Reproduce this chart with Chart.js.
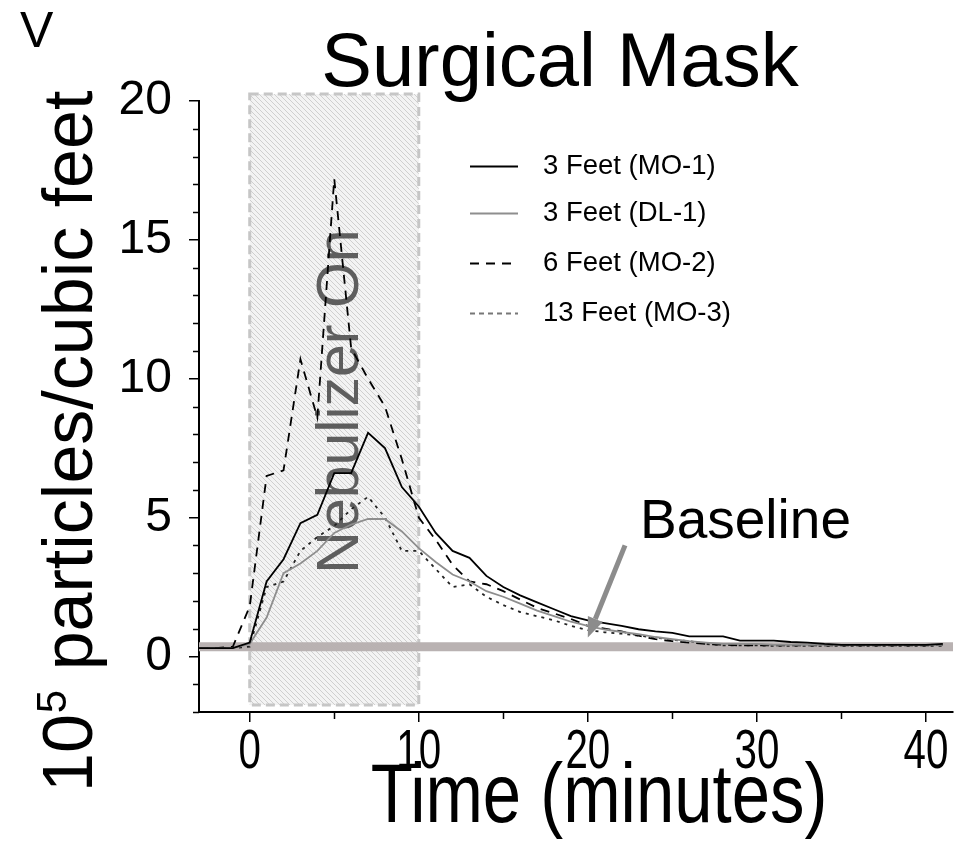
<!DOCTYPE html>
<html>
<head>
<meta charset="utf-8">
<script src="https://cdn.jsdelivr.net/npm/chart.js@4.4.1/dist/chart.umd.min.js"></script>
<style>
  html, body { margin: 0; padding: 0; background: #fff; }
  #wrap { width: 954px; height: 845px; }
</style>
</head>
<body>
<div id="wrap"><canvas id="chart" width="954" height="845"></canvas></div>
<script>
// sampling times, minutes relative to nebulizer start
const minutes = [-3,-2,-1,0,1,2,3,4,5,6,7,8,9,10,11,12,13,14,15,16,17,18,19,20,
  21,22,23,24,25,26,27,28,29,30,31,32,33,34,35,36,37,38,39,40,41];

// 10^5 particles / cubic feet
const mo1 = [0.30,0.30,0.30,0.50, 2.7,3.5,4.8,5.1,6.6,6.6,8.05,7.5,6.1,5.4,
  4.45,3.8,3.55,2.9,2.5,2.2,1.95,1.7,1.45,1.3, 1.2,1.1,0.98,0.9,0.85,0.72,0.72,0.72,0.57,0.57,
  0.57,0.52,0.5,0.45,0.42,0.42,0.42,0.42,0.42,0.42,0.45];
const dl1 = [0.30,0.30,0.30,0.45, 1.4,3.0,3.35,3.8,4.45,4.75,4.95,4.95,4.5,3.9,
  3.4,2.95,2.7,2.35,2.15,1.9,1.65,1.45,1.25,1.1, 0.97,0.88,0.8,0.7,0.62,0.55,0.5,0.45,0.45,0.45,
  0.42,0.42,0.42,0.42,0.42,0.42,0.42,0.42,0.42,0.42,0.42];
const mo2 = [0.30,0.30,0.35,1.8, 6.5,6.7,10.7,8.6,17.2,11.1,10.0,9.0,7.1,5.0,
  4.2,3.3,2.7,2.6,2.35,2.05,1.75,1.55,1.35,1.1, 1.0,0.9,0.75,0.62,0.55,0.5,0.45,0.42,0.4,0.4,
  0.4,0.4,0.4,0.4,0.4,0.4,0.4,0.4,0.4,0.4,0.42];
const mo3 = [0.30,0.30,0.30,0.35, 2.5,2.7,3.8,4.3,4.7,5.3,5.75,5.0,3.8,3.8,
  3.15,2.5,2.6,2.15,1.85,1.6,1.45,1.3,1.1,0.95, 0.87,0.82,0.75,0.68,0.6,0.55,0.45,0.4,0.4,0.4,
  0.38,0.38,0.38,0.38,0.38,0.38,0.38,0.38,0.38,0.38,0.38];

const baselineLevel = 0.35;
const baselineSpan = [-3, 41.6];
const nebulizerOn = [0, 10];

const xTicks = [0, 10, 20, 30, 40];
const xMinor = [5, 15, 25, 35];
const yTicks = [0, 5, 10, 15, 20];
const yMinor = [-2,-1,1,2,3,4,6,7,8,9,11,12,13,14,16,17,18,19];

const SANS = '"Liberation Sans", Arial, sans-serif';

function pts(ys) { return minutes.map((t, i) => ({ x: t, y: ys[i] })); }

// horizontally squeezed text (narrow face look)
function narrowText(ctx, text, x, y, size, sx) {
  ctx.save();
  ctx.translate(x, y);
  ctx.scale(sx, 1);
  ctx.font = size + 'px ' + SANS;
  ctx.textAlign = 'center';
  ctx.textBaseline = 'alphabetic';
  ctx.fillText(text, 0, 0);
  ctx.restore();
}

// diagonal hatch for the nebulizer window
function hatch() {
  const c = document.createElement('canvas');
  c.width = 5; c.height = 5;
  const g = c.getContext('2d');
  g.fillStyle = '#f3f3f3';
  g.fillRect(0, 0, 5, 5);
  g.strokeStyle = '#cfcfcf';
  g.lineWidth = 1;
  g.beginPath();
  g.moveTo(-1, -1); g.lineTo(6, 6);
  g.moveTo(-1, 4); g.lineTo(1, 6);
  g.moveTo(4, -1); g.lineTo(6, 1);
  g.stroke();
  return g.createPattern(c, 'repeat');
}

const decor = {
  id: 'decor',
  beforeDatasetsDraw(chart) {
    const { ctx, scales: { x, y } } = chart;
    const x0 = x.getPixelForValue(nebulizerOn[0]);
    const x1 = x.getPixelForValue(nebulizerOn[1]);
    const y0 = y.getPixelForValue(20.25);
    const y1 = y.getPixelForValue(-1.75);
    ctx.save();
    ctx.fillStyle = hatch();
    ctx.fillRect(x0, y0, x1 - x0, y1 - y0);
    ctx.strokeStyle = '#c6c6c6';
    ctx.lineWidth = 3;
    ctx.setLineDash([9, 5]);
    ctx.strokeRect(x0, y0, x1 - x0, y1 - y0);
    ctx.setLineDash([]);

    ctx.translate(358, (y0 + y1) / 2 + 2);
    ctx.rotate(-Math.PI / 2);
    ctx.font = '59px ' + SANS;
    ctx.fillStyle = '#5e5e5e';
    ctx.textAlign = 'center';
    ctx.textBaseline = 'alphabetic';
    ctx.fillText('Nebulizer On', 0, 0);
    ctx.restore();
  },
  afterDatasetsDraw(chart) {
    const { ctx, scales: { x, y } } = chart;
    // arrow pointing at the baseline band
    const sx = x.getPixelForValue(22.2), sy = y.getPixelForValue(4.0);
    const tx = x.getPixelForValue(20.0), ty = y.getPixelForValue(0.68);
    const ang = Math.atan2(ty - sy, tx - sx);
    const head = 20, half = 8;
    const bx = tx - head * Math.cos(ang), by = ty - head * Math.sin(ang);
    ctx.save();
    ctx.strokeStyle = '#8c8c8c';
    ctx.fillStyle = '#8c8c8c';
    ctx.lineWidth = 5;
    ctx.beginPath();
    ctx.moveTo(sx, sy);
    ctx.lineTo(bx, by);
    ctx.stroke();
    ctx.beginPath();
    ctx.moveTo(tx, ty);
    ctx.lineTo(bx + half * Math.sin(ang), by - half * Math.cos(ang));
    ctx.lineTo(bx - half * Math.sin(ang), by + half * Math.cos(ang));
    ctx.closePath();
    ctx.fill();

    ctx.fillStyle = '#000';
    ctx.font = '55px ' + SANS;
    ctx.textAlign = 'left';
    ctx.fillText('Baseline', 640, 538);

    // minor ticks
    ctx.strokeStyle = '#000';
    ctx.lineWidth = 1.5;
    const axisY = chart.chartArea.bottom, axisX = chart.chartArea.left;
    ctx.beginPath();
    xMinor.forEach(v => {
      const p = Math.round(x.getPixelForValue(v)) + 0.5;
      ctx.moveTo(p, axisY); ctx.lineTo(p, axisY + 7);
    });
    yMinor.forEach(v => {
      const p = Math.round(y.getPixelForValue(v)) + 0.5;
      ctx.moveTo(axisX, p); ctx.lineTo(axisX - 6, p);
    });
    ctx.stroke();

    // x tick labels in a narrow face
    ctx.fillStyle = '#000';
    xTicks.forEach(v => narrowText(ctx, String(v), x.getPixelForValue(v), 768, 56, 0.72));
    ctx.restore();
  },
  afterDraw(chart) {
    const { ctx } = chart;
    ctx.save();
    ctx.fillStyle = '#000';
    ctx.textBaseline = 'alphabetic';

    ctx.font = '50px ' + SANS;
    ctx.textAlign = 'left';
    ctx.fillText('V', 20, 47);

    ctx.font = '76px ' + SANS;
    ctx.textAlign = 'center';
    ctx.fillText('Surgical Mask', 560, 86);

    narrowText(ctx, 'Time (minutes)', 599, 822, 84, 0.82);

    // rotated y title with superscript exponent
    ctx.translate(92, 792);
    ctx.rotate(-Math.PI / 2);
    ctx.textAlign = 'left';
    ctx.font = '70px ' + SANS;
    ctx.fillText('10', 0, 0);
    let w = ctx.measureText('10').width;
    ctx.font = '42px ' + SANS;
    ctx.fillText('5', w + 1, -26);
    w += ctx.measureText('5').width + 1;
    ctx.font = '70px ' + SANS;
    ctx.fillText(' particles/cubic feet', w, 0);
    ctx.restore();

    // legend
    ctx.save();
    const rows = [166, 213, 263, 313];
    chart.data.datasets.filter(d => d.label).forEach((d, i) => {
      const yy = rows[i] + 0.5;
      ctx.strokeStyle = d.legendColor || d.borderColor;
      ctx.lineWidth = d.borderWidth;
      ctx.setLineDash(d.legendDash || d.borderDash || []);
      ctx.beginPath();
      ctx.moveTo(470, yy); ctx.lineTo(518, yy);
      ctx.stroke();
      ctx.setLineDash([]);
      ctx.fillStyle = '#000';
      ctx.font = '27.5px ' + SANS;
      ctx.textAlign = 'left';
      ctx.textBaseline = 'middle';
      ctx.fillText(d.label, 543, rows[i]);
    });
    ctx.restore();
  }
};

new Chart(document.getElementById('chart'), {
  type: 'line',
  data: {
    datasets: [
      { label: '3 Feet (MO-1)', data: pts(mo1), borderColor: '#000', borderWidth: 1.8 },
      { label: '3 Feet (DL-1)', data: pts(dl1), borderColor: '#8e8e8e', borderWidth: 1.8 },
      { label: '6 Feet (MO-2)', data: pts(mo2), borderColor: '#000', borderWidth: 1.8, borderDash: [9, 7] },
      { label: '13 Feet (MO-3)', data: pts(mo3), borderColor: '#222', legendColor: '#777',
        legendDash: [5, 4], borderWidth: 1.8, borderDash: [3, 5] },
      { label: '', data: baselineSpan.map(t => ({ x: t, y: baselineLevel })),
        borderColor: '#b9b2b2', borderWidth: 9, order: 10 }
    ]
  },
  options: {
    responsive: false,
    animation: false,
    devicePixelRatio: 1,
    layout: { padding: { left: 0, top: 101, right: 1, bottom: 0 } },
    elements: { point: { radius: 0 }, line: { tension: 0, borderCapStyle: 'butt' } },
    plugins: { legend: { display: false }, tooltip: { enabled: false } },
    scales: {
      x: {
        type: 'linear', min: -3, max: 41.6,
        afterBuildTicks: s => { s.ticks = xTicks.map(v => ({ value: v })); },
        afterFit: s => { s.height = 133; },
        grid: { drawOnChartArea: false, drawTicks: true, tickLength: 10, color: '#000', lineWidth: 1.5 },
        border: { display: true, color: '#000', width: 2 },
        ticks: { display: false }
      },
      y: {
        type: 'linear', min: -2, max: 20,
        afterBuildTicks: s => { s.ticks = yTicks.map(v => ({ value: v })); },
        afterFit: s => { s.width = 199; },
        grid: { drawOnChartArea: false, drawTicks: true, tickLength: 10, color: '#000', lineWidth: 1.5 },
        border: { display: true, color: '#000', width: 2 },
        ticks: { font: { family: SANS, size: 48 }, color: '#000', padding: 17 }
      }
    }
  },
  plugins: [decor]
});
</script>
</body>
</html>
